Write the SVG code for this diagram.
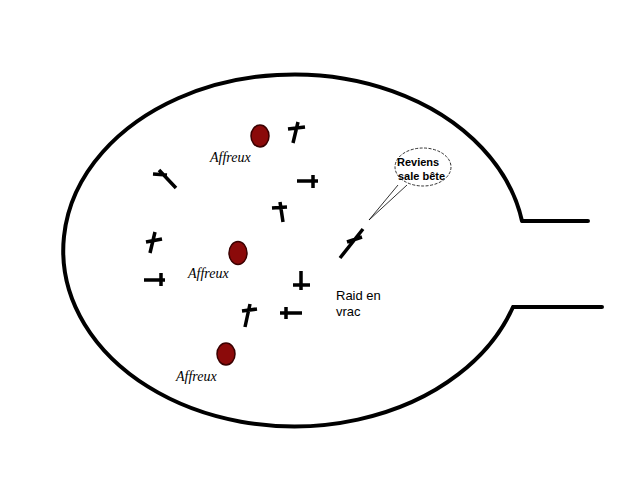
<svg xmlns="http://www.w3.org/2000/svg" width="640" height="480" viewBox="0 0 640 480">
<style>
.out{fill:none;stroke:#000;stroke-width:4;stroke-linecap:round;stroke-linejoin:round}
.x{fill:none;stroke:#000;stroke-width:3.5;stroke-linecap:butt}
.egg{fill:#8b0a0a;stroke:#3a0000;stroke-width:1.5}
.lbl{font-family:"Liberation Serif","DejaVu Serif",serif;font-style:italic;font-size:14px;fill:#000}
.raid{font-family:"Liberation Sans",Arial,sans-serif;font-size:13px;fill:#000}
.bub{font-family:"Liberation Sans",Arial,sans-serif;font-weight:bold;font-size:11px;fill:#000}
</style>
<rect width="640" height="480" fill="#fff"/>
<g id="room">
<path class="out" d="M522,221 A231,176 0 1 0 513,307 M522,221 L588,221 M513,307 L602,307"/>
</g>
<g id="crosses">
<path class="x" d="M298,122 L293,143 M288,129 L305,127"/>
<path class="x" d="M159,170 L176,188 M153,174 L167,175"/>
<path class="x" d="M297,181 L318,181 M313,175 L313,188"/>
<path class="x" d="M280,202 L283,222 M272,208 L287,207"/>
<path class="x" d="M155,232 L150,253 M146,242 L162,239"/>
<path class="x" d="M144,280 L165,280 M161,273 L161,286"/>
<path class="x" d="M301,271 L301,290 M293,285 L310,285"/>
<path class="x" d="M250,304 L245,327 M242,311 L257,309"/>
<path class="x" d="M280,313 L302,313 M286,307 L286,319"/>
<path class="x" d="M363,229 L340,258 M347,242 L362,237"/>
</g>
<g id="affreux1"><ellipse class="egg" cx="260" cy="136" rx="9" ry="11"/><text class="lbl" x="210" y="162">Affreux</text></g>
<g id="affreux2"><ellipse class="egg" cx="238" cy="253" rx="9" ry="11.5"/><text class="lbl" x="188" y="278">Affreux</text></g>
<g id="affreux3"><ellipse class="egg" cx="226" cy="354" rx="9" ry="11"/><text class="lbl" x="176" y="381">Affreux</text></g>
<g id="raid"><text class="raid" x="336" y="300">Raid en</text><text class="raid" x="336" y="316">vrac</text></g>
<g id="bubble">
<ellipse cx="423" cy="167" rx="28" ry="19" fill="#fff" stroke="#000" stroke-width="0.8" stroke-dasharray="3,1.5"/>
<path d="M398,185 L369,220 L407,185" fill="none" stroke="#000" stroke-width="0.8"/>
<text class="bub" x="397" y="166">Reviens</text>
<text class="bub" x="398" y="180">sale bête</text>
</g>
</svg>
